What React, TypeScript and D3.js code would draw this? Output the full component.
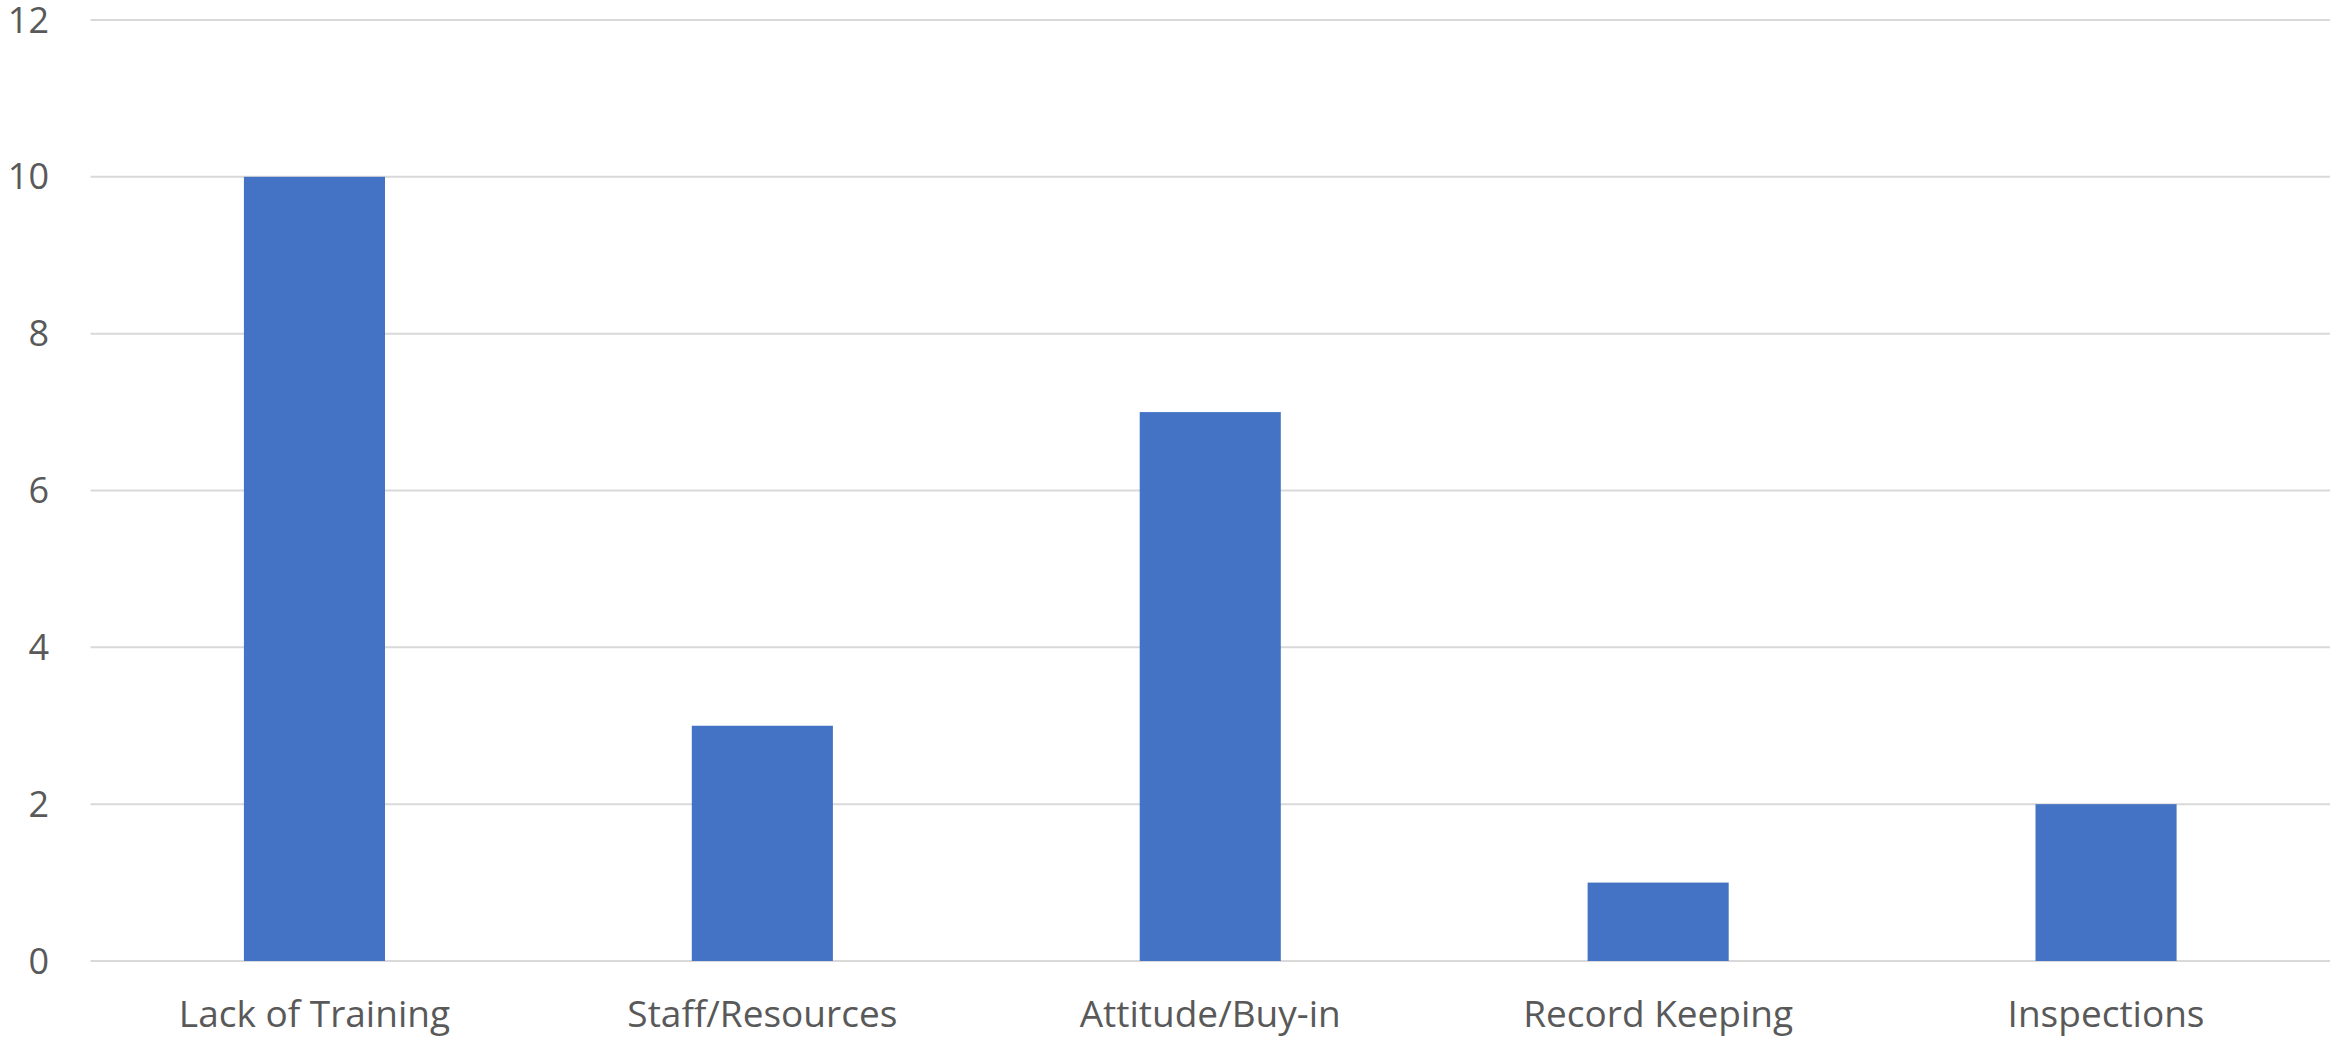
import React, { useEffect, useRef } from 'react';
import * as d3 from 'd3';

const categories = ['Lack of Training', 'Staff/Resources', 'Attitude/Buy-in', 'Record Keeping', 'Inspections'];
const counts = [10, 3, 7, 1, 2];
const yTicks = [0, 2, 4, 6, 8, 10, 12];

const WIDTH = 2330;
const HEIGHT = 1038;

const App = () => {
  const ref = useRef<SVGSVGElement>(null);

  useEffect(() => {
    const svg = d3.select(ref.current);
    svg.selectAll('*').remove();

    const left = 90.5;
    const right = 2330;
    const top = 20;
    const bottom = 961;

    const x = d3.scaleBand().domain(categories).range([left, right]).padding(0);
    const y = d3.scaleLinear().domain([0, 12]).range([bottom, top]);
    const barW = x.bandwidth() * 0.315;

    // gridlines
    svg.append('g')
      .selectAll('line')
      .data(yTicks)
      .enter()
      .append('line')
      .attr('x1', left)
      .attr('x2', right)
      .attr('y1', d => y(d))
      .attr('y2', d => y(d))
      .attr('stroke', '#d9d9d9')
      .attr('stroke-width', 2);

    // bars
    svg.append('g')
      .selectAll('rect')
      .data(categories)
      .enter()
      .append('rect')
      .attr('x', d => (x(d) as number) + x.bandwidth() / 2 - barW / 2)
      .attr('y', (d, i) => y(counts[i]))
      .attr('width', barW)
      .attr('height', (d, i) => bottom - y(counts[i]))
      .attr('fill', '#4472c4');

    // y labels
    svg.append('g')
      .selectAll('text')
      .data(yTicks)
      .enter()
      .append('text')
      .attr('x', 49)
      .attr('y', d => y(d))
      .attr('dy', '0.35em')
      .attr('text-anchor', 'end')
      .attr('font-family', '"Open Sans", sans-serif')
      .attr('font-size', 36)
      .attr('fill', '#595959')
      .text(d => d);

    // x labels
    svg.append('g')
      .selectAll('text')
      .data(categories)
      .enter()
      .append('text')
      .attr('x', d => (x(d) as number) + x.bandwidth() / 2)
      .attr('y', 1027)
      .attr('text-anchor', 'middle')
      .attr('font-family', '"Open Sans", sans-serif')
      .attr('font-size', 37)
      .attr('fill', '#595959')
      .text(d => d);
  }, []);

  return (
    <svg
      ref={ref}
      width={WIDTH}
      height={HEIGHT}
      style={{ position: 'absolute', left: 0, top: 0, background: '#fff' }}
    />
  );
};

export default App;
